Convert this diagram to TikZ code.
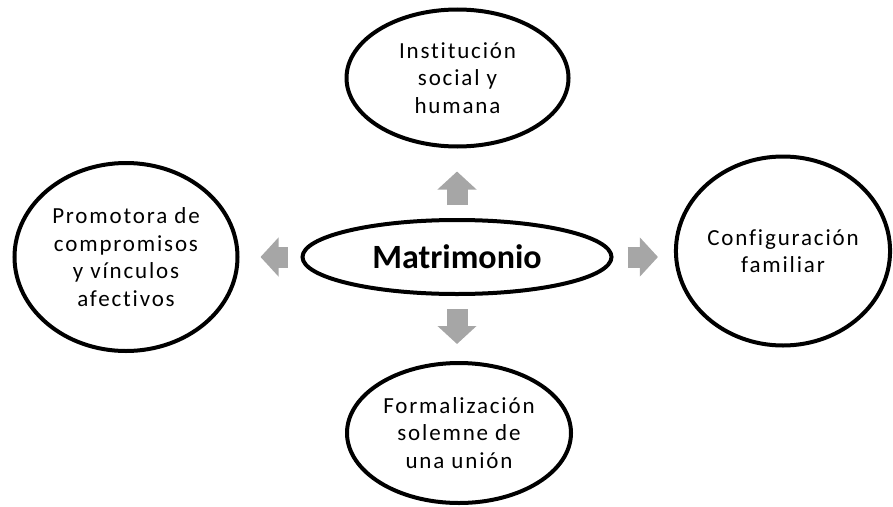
\documentclass[tikz,border=0pt]{standalone}
\usepackage{fontspec}
\setmainfont{Carlito}
\newfontfamily\rotulo{Carlito}[LetterSpace=8, Ligatures = NoCommon]
\usetikzlibrary{shapes.geometric, arrows.meta}
\definecolor{grisflecha}{RGB}{166, 166, 166}

\begin{document}
\begin{tikzpicture}[x = 1pt, y = -1pt,
    idea/.style = {ellipse, draw, line width = 4pt, align = center, inner sep = 0pt,
      font = \rotulo\fontsize{23}{27.5}\selectfont},
    flecha/.style = {draw = grisflecha, line width = 21pt,
      -{Triangle[width = 38pt, length = 18pt]}}]

      \useasboundingbox (0, 0) rectangle (893, 506);

      \node[idea, minimum width = 309pt, minimum height = 74pt,
        font = \bfseries\fontsize{34}{40}\selectfont] (matri) at (457, 257) {Matrimonio};
      \node[idea, minimum width = 222pt, minimum height = 137pt] (inst) at (457.5, 78)
        {Institución\\social y\\humana};
      \node[idea, minimum width = 224pt, minimum height = 140pt] (form) at (459, 433)
        {Formalización\\solemne de\\una unión};
      \node[idea, minimum width = 223pt, minimum height = 188pt] (prom) at (126, 257)
        {Promotora de\\compromisos\\y vínculos\\afectivos};
      \node[idea, minimum width = 210pt, minimum height = 189pt] (conf) at (783, 251)
        {Configuración\\familiar};

      \draw[flecha, shorten <= 13pt, shorten >= 23pt] (matri.north) -- (matri.north |- inst.south);
      \draw[flecha, shorten <= 13pt, shorten >= 17pt] (matri.south) -- (matri.south |- form.north);
      \draw[flecha, shorten <= 13pt, shorten >= 21pt] (matri.west) -- (matri.west -| prom.east);
      \draw[flecha, shorten <= 14pt, shorten >= 16pt] (matri.east) -- (matri.east -| conf.west);

    \end{tikzpicture}
\end{document}
